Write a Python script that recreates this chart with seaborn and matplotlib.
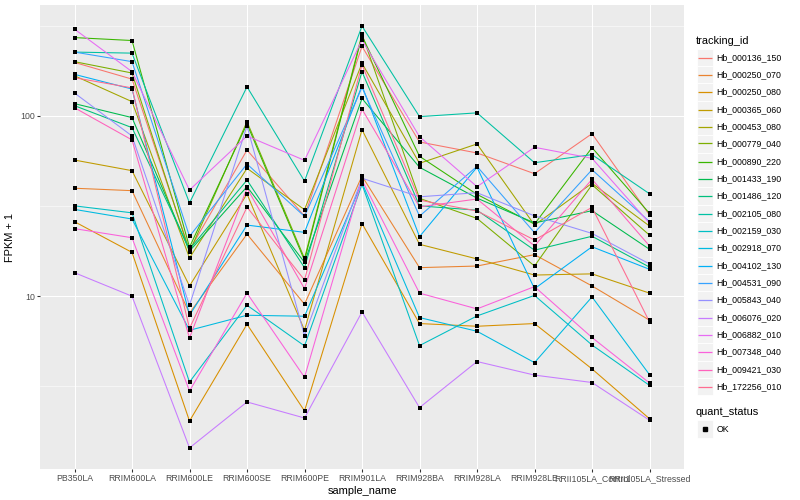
import numpy as np
import pandas as pd
import matplotlib
matplotlib.use("Agg")
import matplotlib.pyplot as plt
import seaborn as sns
from matplotlib.patches import Rectangle
from matplotlib.lines import Line2D
from matplotlib.ticker import FixedLocator, NullFormatter, FuncFormatter

# ---------------- data (FPKM + 1) ----------------
samples = ["PB350LA", "RRIM600LA", "RRIM600LE", "RRIM600SE", "RRIM600PE",
           "RRIM901LA", "RRIM928BA", "RRIM928LA", "RRIM928LE",
           "RRII105LA_Control", "RRII105LA_Stressed"]

tracking_ids = ["Hb_000136_150", "Hb_000250_070", "Hb_000250_080", "Hb_000365_060",
                "Hb_000453_080", "Hb_000779_040", "Hb_000890_220", "Hb_001433_190",
                "Hb_001486_120", "Hb_002105_080", "Hb_002159_030", "Hb_002918_070",
                "Hb_004102_130", "Hb_004531_090", "Hb_005843_040", "Hb_006076_020",
                "Hb_006882_010", "Hb_007348_040", "Hb_009421_030", "Hb_172256_010"]

hb_000136_150 = [198, 160, 18.0, 64.7, 27.8, 243, 71.7, 62.3, 47.8, 79.7, 28.2]
hb_000250_070 = [39.7, 38.5, 8.05, 22.1, 9.03, 46.4, 14.4, 14.7, 17.0, 11.4, 7.36]
hb_000250_080 = [25.9, 17.5, 2.03, 6.99, 2.31, 25.3, 7.05, 6.81, 7.05, 3.95, 2.09]
hb_000365_060 = [56.9, 49.7, 11.4, 36.9, 6.47, 83.9, 19.4, 16.1, 13.1, 13.3, 10.4]
hb_000453_080 = [167, 120, 16.3, 51.2, 30.2, 196, 54.6, 69.9, 24.8, 42.3, 24.5]
hb_000779_040 = [200, 173, 17.6, 93.0, 16.2, 284, 34.9, 27.0, 14.7, 41.5, 21.8]
hb_000890_220 = [272, 262, 18.7, 90.3, 15.8, 278, 59.7, 36.7, 25.1, 66.7, 28.8]
hb_001433_190 = [117, 97.9, 17.8, 40.5, 15.4, 125, 51.9, 35.0, 25.5, 29.8, 18.2]
hb_001486_120 = [114, 86.1, 18.2, 44.1, 14.4, 176, 31.7, 30.0, 18.0, 21.5, 14.5]
hb_002105_080 = [226, 223, 32.9, 145, 43.5, 315, 99.1, 104, 55.0, 61.0, 37.0]
hb_002159_030 = [31.7, 29.0, 3.34, 8.91, 5.30, 41.7, 5.32, 7.77, 10.1, 5.36, 3.20]
hb_002918_070 = [30.3, 26.8, 6.47, 7.84, 7.74, 42.6, 7.61, 6.39, 4.28, 9.91, 3.67]
hb_004102_130 = [170, 141, 7.84, 24.8, 22.6, 147, 21.4, 51.9, 11.0, 18.8, 14.1]
hb_004531_090 = [226, 200, 21.5, 54.1, 27.7, 144, 27.8, 52.5, 22.5, 50.3, 25.9]
hb_005843_040 = [134, 77.4, 8.91, 88.0, 6.05, 45.1, 35.6, 37.5, 27.9, 22.3, 15.1]
hb_006076_020 = [13.5, 10.0, 1.44, 2.59, 2.11, 8.18, 2.41, 4.34, 3.65, 3.32, 2.05]
hb_006882_010 = [303, 176, 38.8, 77.4, 56.7, 264, 76.7, 40.5, 67.0, 58.2, 25.4]
hb_007348_040 = [23.7, 21.1, 2.98, 10.4, 3.55, 44.1, 10.4, 8.50, 11.3, 5.90, 3.30]
hb_009421_030 = [111, 73.6, 5.87, 39.7, 11.0, 109, 31.3, 34.6, 19.0, 44.5, 19.0]
hb_172256_010 = [163, 143, 6.64, 31.2, 12.3, 192, 34.1, 29.7, 20.5, 31.1, 7.20]

series = [hb_000136_150, hb_000250_070, hb_000250_080, hb_000365_060,
          hb_000453_080, hb_000779_040, hb_000890_220, hb_001433_190,
          hb_001486_120, hb_002105_080, hb_002159_030, hb_002918_070,
          hb_004102_130, hb_004531_090, hb_005843_040, hb_006076_020,
          hb_006882_010, hb_007348_040, hb_009421_030, hb_172256_010]

quant_status = "OK"

# ggplot2 default hue palette for 20 levels
colors = ["#F8766D", "#EA8331", "#D89000", "#C09B00", "#A3A500", "#7CAE00",
          "#39B600", "#00BB4E", "#00BF7D", "#00C1A3", "#00BFC4", "#00BAE0",
          "#00B0F6", "#35A2FF", "#9590FF", "#C77CFF", "#E76BF3", "#FA62DB",
          "#FF62BC", "#FF6C91"]

rows = []
for tid, vals in zip(tracking_ids, series):
    for s, v in zip(samples, vals):
        rows.append({"tracking_id": tid, "sample_name": s, "fpkm": v,
                     "quant_status": quant_status})
df = pd.DataFrame(rows)

# ---------------- styling ----------------
plt.rcParams["font.family"] = ["Liberation Sans", "DejaVu Sans"]

W, H = 800, 500
fig = plt.figure(figsize=(W / 100, H / 100), dpi=100)
ax = fig.add_axes([40 / W, 31 / H, 644 / W, 464 / H])
ax.set_facecolor("#EBEBEB")

lw = 0.77
sns.lineplot(data=df, x="sample_name", y="fpkm", hue="tracking_id",
             hue_order=tracking_ids, palette=dict(zip(tracking_ids, colors)),
             sort=False, estimator=None, legend=False, lw=lw, ax=ax, zorder=2)
sns.scatterplot(data=df, x="sample_name", y="fpkm", color="black", marker="s",
                s=5.5, linewidth=0, legend=False, ax=ax, zorder=3)

ax.set_yscale("log")
lo, hi = np.log10(df.fpkm.min()), np.log10(df.fpkm.max())
pad = 0.05 * (hi - lo)
ax.set_ylim(10 ** (lo - pad), 10 ** (hi + pad))
ax.set_xlim(-0.6, len(samples) - 1 + 0.6)

ax.yaxis.set_major_locator(FixedLocator([10, 100]))
ax.yaxis.set_minor_locator(FixedLocator([10 ** 0.5, 10 ** 1.5, 10 ** 2.5]))
ax.yaxis.set_major_formatter(FuncFormatter(lambda v, p: f"{v:g}"))
ax.yaxis.set_minor_formatter(NullFormatter())

ax.grid(which="major", color="white", lw=0.77, zorder=0)
ax.grid(which="minor", axis="y", color="white", lw=0.38, zorder=0)
ax.set_axisbelow(True)
for sp in ax.spines.values():
    sp.set_visible(False)

ax.tick_params(axis="both", which="major", length=2.0, width=0.77, color="#333333",
               labelcolor="#4D4D4D", labelsize=6.3, pad=1.6)
ax.tick_params(axis="y", which="minor", length=0)

ax.set_xlabel("sample_name", fontsize=7.9, color="black", labelpad=2)
ax.set_ylabel("FPKM + 1", fontsize=7.9, color="black", labelpad=4)

# ---------------- legends (drawn as figure artists, ggplot style) ----------------
def fx(px):
    return px / W

def fy(py):
    return 1 - py / H

key_x0, key_w, key_h = 696.5, 16.5, 17.3
text_x = 716.5
title_x = 696.0


def draw_key(yc):
    fig.add_artist(Rectangle((fx(key_x0), fy(yc + key_h / 2)), key_w / W, key_h / H,
                             facecolor="#F2F2F2", edgecolor="white", lw=0.6,
                             transform=fig.transFigure, zorder=1))


fig.text(fx(title_x), fy(40.7), "tracking_id", fontsize=7.9, va="center", ha="left")
y0, dy = 57.3, 17.33
for i, (tid, c) in enumerate(zip(tracking_ids, colors)):
    yc = y0 + i * dy
    draw_key(yc)
    yl = int(yc) + 0.5  # snap key line onto a pixel row so it stays crisp
    fig.add_artist(Line2D([fx(key_x0 + 1.2), fx(key_x0 + key_w - 1.2)], [fy(yl), fy(yl)],
                          color=c, lw=0.9, transform=fig.transFigure, zorder=3,
                          solid_capstyle="butt"))
    fig.text(fx(text_x), fy(yc), tid, fontsize=6.3, va="center", ha="left")

fig.text(fx(title_x), fy(412), "quant_status", fontsize=7.9, va="center", ha="left")
yc = 429
draw_key(yc)
fig.add_artist(Line2D([fx(key_x0 + key_w / 2)], [fy(yc)], marker="s", color="black",
                      markersize=2.4, ls="none", transform=fig.transFigure, zorder=3))
fig.text(fx(text_x), fy(yc), quant_status, fontsize=6.3, va="center", ha="left")

fig.savefig("out.png", dpi=100)
